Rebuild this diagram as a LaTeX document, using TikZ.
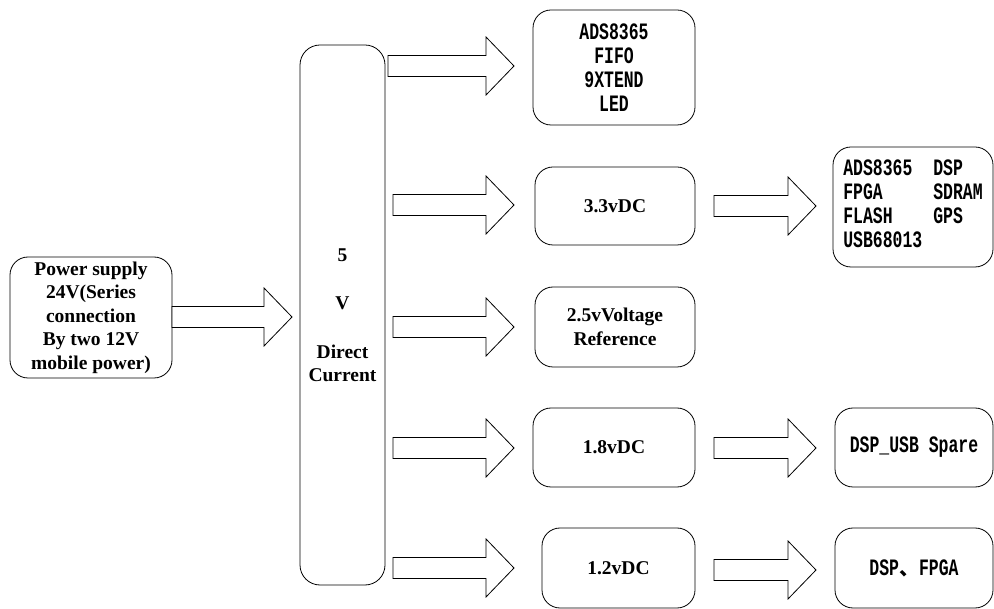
\documentclass[tikz,border=0pt]{standalone}
\usepackage{fontspec}
\setmainfont{Liberation Serif}
\newfontfamily\songti[FakeStretch=0.70,BoldFeatures={FakeStretch=0.70}]{Liberation Mono}
\newfontfamily\cjk{Noto Sans CJK SC}
\begin{document}
\begin{tikzpicture}[x=1pt,y=-1pt,
  box/.style={draw,line width=0.8pt,rounded corners=18pt,inner sep=0pt,align=center,
    font=\bfseries\fontsize{19.5}{23.5}\selectfont},
  mbox/.style={box,font=\songti\bfseries\fontsize{23.5}{24}\selectfont},
  arr/.style={draw,line width=0.8pt,fill=white}]
\useasboundingbox (0,0) rectangle (994,609);
% nodes: centre, width, height
\node[box,minimum width=162pt,minimum height=121pt] (ps) at (91,317.5)
  {Power supply\\24V(Series\\connection\\By two 12V\\mobile power)};
\node[box,rounded corners=20pt,minimum width=85pt,minimum height=540pt] (v5) at (342.5,315)
  {\fontsize{19.5}{25}\selectfont 5\\[25pt]V\\[25pt]Direct\\Current};
\node[mbox,minimum width=162pt,minimum height=115pt] (top) at (614,67.5)
  {ADS8365\\FIFO\\9XTEND\\LED};
\node[box,minimum width=160pt,minimum height=78pt] (b33) at (615,206) {3.3vDC};
\node[box,minimum width=160pt,minimum height=80pt] (b25) at (615,327) {2.5vVoltage\\Reference};
\node[box,minimum width=162pt,minimum height=79pt] (b18) at (614,447.5) {1.8vDC};
\node[box,minimum width=153pt,minimum height=80pt] (b12) at (618.5,568) {1.2vDC};
\node[mbox,minimum width=160pt,minimum height=120pt] (rtop) at (913,207)
  {\begin{tabular}{@{}p{90pt}@{}l@{}}ADS8365&DSP\\FPGA&SDRAM\\FLASH&GPS\\USB68013&\end{tabular}};
\node[mbox,minimum width=158pt,minimum height=79pt] (r18) at (914,447.5) {DSP\_USB Spare};
\node[mbox,minimum width=158pt,minimum height=80pt] (r12) at (914,568) {DSP{\cjk\bfseries\fontsize{20}{24}\selectfont 、}FPGA};
% block arrows: #1 start x, #2 tip x, #3 y
\newcommand\barrow[3]{%
  \draw[arr] (#1,#3-10.5) -- (#2-28,#3-10.5) -- (#2-28,#3-29) -- (#2,#3)
    -- (#2-28,#3+29) -- (#2-28,#3+10.5) -- (#1,#3+10.5) -- cycle;}
\barrow{172}{292}{317}
\barrow{388}{514}{66}
\barrow{393}{514}{205}
\barrow{393}{514}{327}
\barrow{393}{514}{448}
\barrow{393}{514}{568}
\barrow{714}{816}{206}
\barrow{714}{816}{448}
\barrow{714}{816}{570}
\end{tikzpicture}
\end{document}
